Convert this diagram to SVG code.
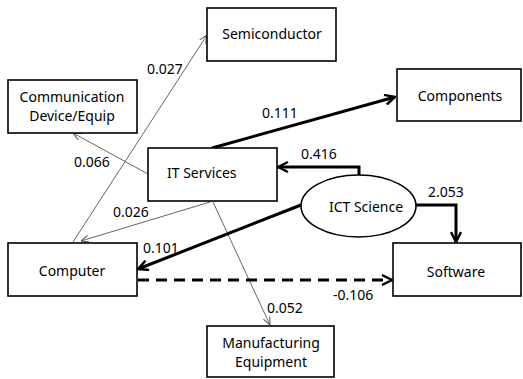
<svg xmlns="http://www.w3.org/2000/svg" width="523" height="379" viewBox="0 0 523 379">
<style>
.box{fill:#fff;stroke:#000;stroke-width:1.6}
.t{font-family:"Noto Sans","Open Sans",sans-serif;font-size:14px;fill:#000}
.c{text-anchor:middle}
.thin{fill:none;stroke:#666;stroke-width:1}
.thick{fill:none;stroke:#000;stroke-width:3}
.dash{fill:none;stroke:#000;stroke-width:3;stroke-dasharray:11 7}
</style>
<defs>
<marker id="ah" viewBox="0 0 12 12" refX="11" refY="6" markerWidth="12" markerHeight="12" markerUnits="userSpaceOnUse" orient="auto">
<path d="M1,1 L11,6 L1,11" fill="none" stroke="#000" stroke-width="2.4"/>
</marker>
<marker id="at" viewBox="0 0 8 8" refX="8" refY="4" markerWidth="8" markerHeight="8" markerUnits="userSpaceOnUse" orient="auto">
<path d="M0,0.5 L8,4 L0,7.5" fill="none" stroke="#555" stroke-width="1"/>
</marker>
</defs>
<g id="connectors">
<line class="thin" x1="73" y1="242" x2="207" y2="35" marker-end="url(#at)"/>
<line class="thin" x1="148" y1="174" x2="73" y2="133" marker-end="url(#at)"/>
<line class="thin" x1="210" y1="202" x2="81" y2="241" marker-end="url(#at)"/>
<line class="thin" x1="213" y1="202" x2="270" y2="325" marker-end="url(#at)"/>
<line class="thick" x1="212" y1="148" x2="395" y2="97" marker-end="url(#ah)"/>
<polyline class="thick" points="359,175 359,167 278,167" marker-end="url(#ah)"/>
<polyline class="thick" points="416,205 456,205 456,242" marker-end="url(#ah)"/>
<line class="thick" x1="301" y1="205" x2="138" y2="269" marker-end="url(#ah)"/>
<line class="dash" x1="138" y1="280" x2="392" y2="280" marker-end="url(#ah)"/>
<text class="t" x="147" y="74">0.027</text>
<text class="t" x="74" y="167">0.066</text>
<text class="t" x="262" y="118">0.111</text>
<text class="t" x="301" y="159">0.416</text>
<text class="t" x="428" y="197">2.053</text>
<text class="t" x="113" y="217">0.026</text>
<text class="t" x="143" y="253">0.101</text>
<text class="t" x="333" y="300">-0.106</text>
<text class="t" x="267" y="313">0.052</text>
</g>
<g id="semiconductor">
<rect class="box" x="207" y="8" width="129" height="53"/>
<text class="t c" x="272" y="39">Semiconductor</text>
</g>
<g id="communication">
<rect class="box" x="8" y="80" width="129" height="53"/>
<text class="t c" x="72" y="102">Communication</text>
<text class="t c" x="72" y="121">Device/Equip</text>
</g>
<g id="components">
<rect class="box" x="397" y="69" width="124" height="52"/>
<text class="t c" x="460" y="101">Components</text>
</g>
<g id="it-services">
<rect class="box" x="148" y="148" width="129" height="53"/>
<text class="t" x="167" y="178">IT Services</text>
</g>
<g id="ict-science">
<ellipse class="box" cx="358.5" cy="206" rx="57.5" ry="31"/>
<text class="t c" x="366" y="212">ICT Science</text>
</g>
<g id="computer">
<rect class="box" x="8" y="243" width="129" height="53"/>
<text class="t c" x="72" y="276">Computer</text>
</g>
<g id="software">
<rect class="box" x="393" y="243" width="128" height="53"/>
<text class="t c" x="456" y="277">Software</text>
</g>
<g id="manufacturing">
<rect class="box" x="207" y="326" width="127" height="51"/>
<text class="t c" x="271" y="348">Manufacturing</text>
<text class="t c" x="271" y="367">Equipment</text>
</g>
</svg>
